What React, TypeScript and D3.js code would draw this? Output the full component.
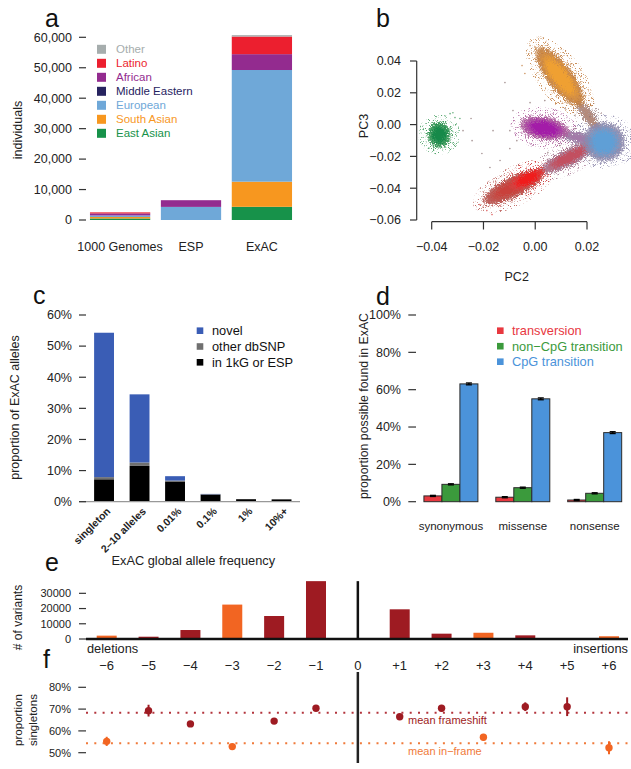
import { useEffect, useRef } from "react";
import * as d3 from "d3";

const FONT = "'Liberation Sans', Arial, Helvetica, sans-serif";

// a: individuals per cohort and population
const cohorts = ["1000 Genomes", "ESP", "ExAC"];
const populations = ["East Asian", "South Asian", "European", "Middle Eastern", "African", "Latino", "Other"];
const counts1kg = [504, 489, 503, 0, 661, 347, 0];
const countsEsp = [0, 0, 4300, 0, 2203, 0, 0];
const countsExac = [4327, 8256, 36677, 0, 5203, 5789, 454];
const countTicks = [0, 10000, 20000, 30000, 40000, 50000, 60000];
const popColor = {
  "East Asian": "#17924a",
  "South Asian": "#f7971f",
  European: "#6fa8d8",
  "Middle Eastern": "#27235f",
  African: "#932b8f",
  Latino: "#ec1f2f",
  Other: "#a6adad",
};

// b: PCA clouds (spine end points + spread, in PC units) and stray samples
const pcTicksX = [-0.04, -0.02, 0, 0.02];
const pcTicksY = [-0.06, -0.04, -0.02, 0, 0.02, 0.04];
const pcaClouds = [
  { id: "sas-eur", x1: 0.0160, y1: 0.0150, x2: 0.0250, y2: -0.0040, spread: 0.0075 },
  { id: "afr-eur", x1: 0.0095, y1: -0.0058, x2: 0.0235, y2: -0.0105, spread: 0.0075 },
  { id: "amr-tail", x1: -0.0205, y1: -0.0490, x2: 0.0040, y2: -0.0290, spread: 0.0135 },
  { id: "amr-eur", x1: 0.0018, y1: -0.0300, x2: 0.0240, y2: -0.0115, spread: 0.0110 },
  { id: "eur", x1: 0.0265, y1: 0.0018, x2: 0.0265, y2: -0.0235, spread: 0.0270 },
  { id: "amr", x1: -0.0098, y1: -0.0395, x2: 0.0040, y2: -0.0285, spread: 0.0100 },
  { id: "afr", x1: -0.0063, y1: 0.0005, x2: 0.0134, y2: -0.0052, spread: 0.0150 },
  { id: "sas", x1: 0.0005, y1: 0.0491, x2: 0.0185, y2: 0.0113, spread: 0.0165 },
  { id: "eas", x1: -0.0371, y1: 0.0022, x2: -0.0371, y2: -0.0148, spread: 0.0150 },
];
const pcaStrays = [
  [-0.0329, 0.0069, "eas"], [-0.0310, 0.0044, "eas"], [-0.0291, 0.0038, "eas"], [-0.0318, 0.0075, "eas"],
  [-0.0248, 0.0038, "mix"], [-0.0279, -0.0038, "mix"], [-0.0244, -0.0101, "mix"], [-0.0206, -0.0182, "mix"],
  [-0.0175, -0.0270, "mix"], [-0.0163, -0.0038, "mix"], [-0.0136, -0.0226, "mix"], [-0.0117, 0.0264, "mix"],
  [-0.0098, -0.0038, "mix"], [-0.0071, -0.0101, "mix"], [-0.0098, -0.0151, "mix"], [-0.0040, 0.0321, "sas"],
  [-0.0051, 0.0371, "sas"], [-0.0086, 0.0088, "mix"], [-0.0020, 0.0138, "mix"], [0.0037, 0.0151, "mix"],
  [0.0115, 0.0101, "mix"], [0.0153, 0.0057, "mix"], [0.0211, 0.0050, "mix"], [0.0153, -0.0025, "mix"],
  [0.0095, -0.0132, "mix"], [0.0049, -0.0176, "mix"], [-0.0187, -0.0541, "amr"], [-0.0167, -0.0566, "amr"],
  [-0.0214, -0.0503, "amr"], [-0.0136, -0.0509, "amr"], [0.0327, -0.0164, "eur"], [0.0346, -0.0069, "eur"],
  [0.0211, -0.0226, "mix"], [0.0134, -0.0258, "mix"], [-0.0020, 0.0497, "sas"], [0.0192, 0.0182, "sas"],
  [0.0049, 0.0465, "sas"],
];
const cloudColor = {
  eas: ["#16894a", "#3d9a5a"],
  sas: ["#efa032", "#c27d3e"],
  afr: ["#a31ea8", "#ad5f9c"],
  eur: ["#5e9fd6", "#8d88ab"],
  amr: ["#f01c1c", "#d84040"],
  "amr-tail": ["#c9403a", "#b75550"],
  "amr-eur": ["#c25060", "#a57690"],
  "sas-eur": ["#b48a7a", "#a99090"],
  "afr-eur": ["#a27aa8", "#9c88a8"],
  mix: ["#8d7676", "#8d7676"],
};

// c: allele frequency spectrum (% of ExAC alleles)
const afBins = ["singleton", "2–10 alleles", "0.01%", "0.1%", "1%", "10%+"];
const afKnown = [7.2, 11.5, 6.5, 2.3, 0.8, 0.75];
const afOtherDbsnp = [0.7, 1.1, 0.3, 0.1, 0, 0];
const afNovel = [46.4, 21.9, 1.4, 0.1, 0, 0];
const pctTicksC = [0, 10, 20, 30, 40, 50, 60];

// d: proportion of possible variants observed (%)
const mutClasses = ["synonymous", "missense", "nonsense"];
const mutTypes = ["transversion", "non−CpG transition", "CpG transition"];
const foundTransversion = [3.1, 2.4, 0.9];
const foundNonCpg = [9.3, 7.5, 4.5];
const foundCpg = [63.1, 55.1, 37.0];
const foundErr = [0.3, 0.3, 0.5];
const pctTicksD = [0, 20, 40, 60, 80, 100];

// e/f: indels by length
const indelSizes = [-6, -5, -4, -3, -2, -1, 0, 1, 2, 3, 4, 5, 6];
const indelCounts = [2200, 1500, 5900, 22600, 15100, 38000, null, 19500, 3500, 4100, 2400, 150, 1800];
const countTicksE = [0, 10000, 20000, 30000];
const singletonPct = [55.2, 69.3, 63.2, 52.8, 64.5, 70.4, null, 66.5, 70.4, 57.1, 71.1, 71.1, 52.3];
const singletonErr = [2.1, 2.7, 1.0, 0.9, 0.9, 0.9, null, 0.9, 1.5, 1.5, 2.0, 4.3, 3.0];
const meanFrameshift = 68.3;
const meanInframe = 54.3;
const pctTicksF = [50, 60, 70, 80];

const FS = "#9e1b22";
const IF = "#f26522";

function ticksY(g, scale, values, x0, x1, labelX, fmt, size) {
  values.forEach((v) => {
    g.append("line").attr("x1", x0).attr("x2", x1).attr("y1", scale(v)).attr("y2", scale(v))
      .attr("stroke", "#333").attr("stroke-width", 1.2);
    g.append("text").attr("x", labelX).attr("y", scale(v)).attr("dy", "0.35em")
      .attr("text-anchor", "end").attr("fill", "#222").style("font-size", size + "px").text(fmt(v));
  });
}

function vlabel(g, x, y, text, size) {
  g.append("text").attr("transform", `translate(${x},${y}) rotate(-90)`)
    .attr("text-anchor", "middle").attr("fill", "#222").style("font-size", size + "px").text(text);
}

function panelLabel(g, x, y, t) {
  g.append("text").attr("x", x).attr("y", y).attr("fill", "#111").style("font-size", "25px").text(t);
}

export default function App() {
  const ref = useRef(null);

  useEffect(() => {
    const svg = d3.select(ref.current);
    svg.selectAll("*").remove();
    svg.style("font-family", FONT);
    const defs = svg.append("defs");

    // ---------- a ----------
    const ga = svg.append("g");
    const ya = d3.scaleLinear().domain([0, 60000]).range([220, 37.3]);
    const xa = d3.scaleBand().domain(cohorts).range([85, 297]).paddingInner(0.15).paddingOuter(0.07);
    const rowsA = [counts1kg, countsEsp, countsExac].map((arr, i) => {
      const r = { cohort: cohorts[i] };
      populations.forEach((p, j) => (r[p] = arr[j]));
      return r;
    });
    const stackA = d3.stack().keys(populations)(rowsA);
    stackA.forEach((layer) => {
      ga.append("g").attr("fill", popColor[layer.key]).selectAll("rect").data(layer).join("rect")
        .attr("x", (d) => xa(d.data.cohort)).attr("width", xa.bandwidth())
        .attr("y", (d) => ya(d[1])).attr("height", (d) => ya(d[0]) - ya(d[1]));
    });
    ticksY(ga, ya, countTicks, 79, 86, 72, d3.format(","), 12.5);
    cohorts.forEach((c) => {
      ga.append("text").attr("x", xa(c) + xa.bandwidth() / 2).attr("y", 251).attr("text-anchor", "middle")
        .attr("fill", "#222").style("font-size", "12.5px").text(c);
    });
    vlabel(ga, 21.5, 130, "individuals", 12.5);
    [...populations].reverse().forEach((p, i) => {
      const y = 49.3 + i * 14;
      ga.append("rect").attr("x", 97).attr("y", y - 4.5).attr("width", 9).attr("height", 9).attr("fill", popColor[p]);
      ga.append("text").attr("x", 116).attr("y", y).attr("dy", "0.35em").attr("fill", popColor[p])
        .style("font-size", "11.5px").text(p);
    });
    panelLabel(ga, 45, 27, "a");

    // ---------- b ----------
    const gb = svg.append("g");
    const xb = d3.scaleLinear().domain([-0.04, 0.02]).range([431.7, 587]);
    const yb = d3.scaleLinear().domain([-0.06, 0.04]).range([220, 61]);
    const grain = defs.append("filter").attr("id", "grain").attr("x", "-30%").attr("y", "-30%")
      .attr("width", "160%").attr("height", "160%");
    grain.append("feTurbulence").attr("type", "fractalNoise").attr("baseFrequency", 1.1)
      .attr("numOctaves", 2).attr("seed", 4).attr("result", "n");
    grain.append("feDisplacementMap").attr("in", "SourceGraphic").attr("in2", "n").attr("scale", 11)
      .attr("xChannelSelector", "R").attr("yChannelSelector", "G");
    const speckle = defs.append("filter").attr("id", "speckle").attr("x", "-30%").attr("y", "-30%")
      .attr("width", "160%").attr("height", "160%");
    speckle.append("feTurbulence").attr("type", "fractalNoise").attr("baseFrequency", 1.6)
      .attr("numOctaves", 1).attr("seed", 9).attr("result", "n");
    speckle.append("feColorMatrix").attr("in", "n").attr("type", "matrix")
      .attr("values", "0 0 0 0 0  0 0 0 0 0  0 0 0 0 0  9 0 0 0 -5.2").attr("result", "m");
    speckle.append("feComposite").attr("in", "SourceGraphic").attr("in2", "m").attr("operator", "in");

    const geom = pcaClouds.map((c) => {
      const px1 = xb(c.x1), py1 = yb(c.y1), px2 = xb(c.x2), py2 = yb(c.y2);
      return {
        id: c.id,
        cx: (px1 + px2) / 2,
        cy: (py1 + py2) / 2,
        rx: Math.hypot(px2 - px1, py2 - py1) / 2,
        ry: (yb(0) - yb(c.spread)) / 2,
        ang: (Math.atan2(py2 - py1, px2 - px1) * 180) / Math.PI,
      };
    });
    const fringeG = gb.append("g").attr("filter", "url(#speckle)");
    geom.forEach((c) => {
      fringeG.append("ellipse")
        .attr("transform", `translate(${c.cx},${c.cy}) rotate(${c.ang})`)
        .attr("rx", c.rx * 1.12 + 5).attr("ry", c.ry * 1.35 + 5)
        .attr("fill", cloudColor[c.id][1]).attr("opacity", 0.85);
    });
    const cloudG = gb.append("g").attr("filter", "url(#grain)");
    geom.forEach((c) => {
      const [core, edge] = cloudColor[c.id];
      const grad = defs.append("radialGradient").attr("id", "cg-" + c.id);
      grad.append("stop").attr("offset", "0%").attr("stop-color", core).attr("stop-opacity", 1);
      grad.append("stop").attr("offset", "45%").attr("stop-color", core).attr("stop-opacity", 1);
      grad.append("stop").attr("offset", "85%").attr("stop-color", edge).attr("stop-opacity", 0.92);
      grad.append("stop").attr("offset", "100%").attr("stop-color", edge).attr("stop-opacity", 0.35);
      cloudG.append("ellipse")
        .attr("transform", `translate(${c.cx},${c.cy}) rotate(${c.ang})`)
        .attr("rx", c.rx).attr("ry", c.ry)
        .attr("fill", `url(#cg-${c.id})`);
    });
    gb.append("g").selectAll("circle").data(pcaStrays).join("circle")
      .attr("cx", (d) => xb(d[0])).attr("cy", (d) => yb(d[1])).attr("r", 0.8)
      .attr("fill", (d) => cloudColor[d[2]][1]).attr("opacity", 0.8);
    gb.append("line").attr("x1", 416.7).attr("x2", 416.7).attr("y1", yb(0.04)).attr("y2", yb(-0.06))
      .attr("stroke", "#333").attr("stroke-width", 1.2);
    ticksY(gb, yb, pcTicksY, 410, 416.7, 401, d3.format(".2f"), 12.5);
    gb.append("line").attr("x1", xb(-0.04)).attr("x2", xb(0.02)).attr("y1", 221.7).attr("y2", 221.7)
      .attr("stroke", "#333").attr("stroke-width", 1.2);
    pcTicksX.forEach((v) => {
      gb.append("line").attr("x1", xb(v)).attr("x2", xb(v)).attr("y1", 221.7).attr("y2", 229.5)
        .attr("stroke", "#333").attr("stroke-width", 1.2);
      gb.append("text").attr("x", xb(v)).attr("y", 251).attr("text-anchor", "middle").attr("fill", "#222")
        .style("font-size", "12.5px").text(d3.format(".2f")(v));
    });
    gb.append("text").attr("x", 516.7).attr("y", 281).attr("text-anchor", "middle").attr("fill", "#222")
      .style("font-size", "12.5px").text("PC2");
    vlabel(gb, 368, 126, "PC3", 12.5);
    panelLabel(gb, 376, 27, "b");

    // ---------- c ----------
    const gc = svg.append("g");
    const yc = d3.scaleLinear().domain([0, 60]).range([501.7, 315]);
    const xc = d3.scaleBand().domain(afBins).range([86.3, 299.3]).paddingInner(0.44).paddingOuter(0.22);
    const rowsC = afBins.map((b, i) => ({ bin: b, known: afKnown[i], dbsnp: afOtherDbsnp[i], novel: afNovel[i] }));
    const colC = { known: "#000000", dbsnp: "#707070", novel: "#3a5db5" };
    d3.stack().keys(["known", "dbsnp", "novel"])(rowsC).forEach((layer) => {
      gc.append("g").attr("fill", colC[layer.key]).selectAll("rect").data(layer).join("rect")
        .attr("x", (d) => xc(d.data.bin)).attr("width", xc.bandwidth())
        .attr("y", (d) => yc(d[1])).attr("height", (d) => yc(d[0]) - yc(d[1]));
    });
    gc.append("line").attr("x1", 79).attr("x2", 300).attr("y1", yc(0)).attr("y2", yc(0))
      .attr("stroke", "#999").attr("stroke-width", 1.2);
    ticksY(gc, yc, pctTicksC, 79, 86, 72, (v) => v + "%", 12.5);
    afBins.forEach((b) => {
      gc.append("text").attr("transform", `translate(${xc(b) + xc.bandwidth() / 2 + 7},512) rotate(-45)`)
        .attr("text-anchor", "end").attr("fill", "#222").style("font-size", "10.5px")
        .style("font-weight", "bold").text(b);
    });
    gc.append("text").attr("x", 193.3).attr("y", 564.5).attr("text-anchor", "middle").attr("fill", "#222")
      .style("font-size", "12.8px").text("ExAC global allele frequency");
    vlabel(gc, 18.5, 407.5, "proportion of ExAC alleles", 12.5);
    [["novel", "novel"], ["dbsnp", "other dbSNP"], ["known", "in 1kG or ESP"]].forEach(([k, t], i) => {
      const y = 330.7 + i * 15.8;
      gc.append("rect").attr("x", 196.7).attr("y", y - 3.3).attr("width", 6.6).attr("height", 6.6).attr("fill", colC[k]);
      gc.append("text").attr("x", 212).attr("y", y).attr("dy", "0.35em").attr("fill", "#111")
        .style("font-size", "12.8px").text(t);
    });
    panelLabel(gc, 33, 304, "c");

    // ---------- d ----------
    const gd = svg.append("g");
    const yd = d3.scaleLinear().domain([0, 100]).range([501.7, 315]);
    const xd0 = d3.scaleBand().domain(mutClasses).range([415, 630.6]).paddingInner(0.249).paddingOuter(0.124);
    const xd1 = d3.scaleBand().domain(mutTypes).range([0, xd0.bandwidth()]);
    const colD = ["#e8383f", "#3b9a3c", "#4b93da"];
    const valsD = [foundTransversion, foundNonCpg, foundCpg];
    mutClasses.forEach((cls, i) => {
      mutTypes.forEach((t, j) => {
        const v = valsD[j][i];
        const x = xd0(cls) + xd1(t);
        gd.append("rect").attr("x", x).attr("width", xd1.bandwidth()).attr("y", yd(v))
          .attr("height", yd(0) - yd(v)).attr("fill", colD[j]).attr("stroke", "#2b2b2b").attr("stroke-width", 1);
        const cx = x + xd1.bandwidth() / 2;
        const e = foundErr[j];
        gd.append("line").attr("x1", cx).attr("x2", cx).attr("y1", yd(v - e)).attr("y2", yd(v + e))
          .attr("stroke", "#000").attr("stroke-width", 1.5);
        [v - e, v + e].forEach((w) => {
          gd.append("line").attr("x1", cx - 3).attr("x2", cx + 3).attr("y1", yd(w)).attr("y2", yd(w))
            .attr("stroke", "#000").attr("stroke-width", 1.3);
        });
      });
      gd.append("text").attr("x", xd0(cls) + xd0.bandwidth() / 2).attr("y", 530).attr("text-anchor", "middle")
        .attr("fill", "#222").style("font-size", "11.5px").text(cls);
    });
    ticksY(gd, yd, pctTicksD, 408.3, 416, 401, (v) => v + "%", 12.5);
    vlabel(gd, 368, 406, "proportion possible found in ExAC", 12.3);
    mutTypes.forEach((t, j) => {
      const y = 330.7 + j * 15.5;
      gd.append("rect").attr("x", 497).attr("y", y - 3.3).attr("width", 6.6).attr("height", 6.6).attr("fill", colD[j]);
      gd.append("text").attr("x", 512).attr("y", y).attr("dy", "0.35em").attr("fill", colD[j])
        .style("font-size", "12.8px").text(t);
    });
    panelLabel(gd, 376, 305, "d");

    // ---------- e ----------
    const ge = svg.append("g");
    const xe = d3.scaleLinear().domain([-6, 6]).range([106.7, 609]);
    const ye = d3.scaleLinear().domain([0, 40000]).range([639, 578.1]);
    const isFs = (s) => Math.abs(s) % 3 !== 0;
    indelSizes.forEach((s, i) => {
      const v = indelCounts[i];
      if (v == null) return;
      ge.append("rect").attr("x", xe(s) - 10).attr("width", 20).attr("y", ye(v)).attr("height", ye(0) - ye(v))
        .attr("fill", isFs(s) ? FS : IF);
    });
    ge.append("line").attr("x1", 86).attr("x2", 628).attr("y1", ye(0)).attr("y2", ye(0))
      .attr("stroke", "#111").attr("stroke-width", 2.5);
    ge.append("line").attr("x1", xe(0)).attr("x2", xe(0)).attr("y1", ye(38000)).attr("y2", ye(0))
      .attr("stroke", "#111").attr("stroke-width", 2.5);
    ticksY(ge, ye, countTicksE, 79, 86, 71, d3.format("d"), 11);
    indelSizes.forEach((s) => {
      ge.append("text").attr("x", xe(s)).attr("y", 670).attr("text-anchor", "middle").attr("fill", "#222")
        .style("font-size", "13px").text(s === 0 ? "0" : d3.format("+d")(s));
    });
    ge.append("text").attr("x", 87).attr("y", 653).attr("fill", "#222").style("font-size", "12.8px").text("deletions");
    ge.append("text").attr("x", 628).attr("y", 653).attr("text-anchor", "end").attr("fill", "#222")
      .style("font-size", "12.8px").text("insertions");
    vlabel(ge, 21.5, 617.5, "# of variants", 12);
    panelLabel(ge, 45, 571, "e");

    // ---------- f ----------
    const gf = svg.append("g");
    const yf = d3.scaleLinear().domain([50, 80]).range([752.7, 687.3]);
    gf.append("line").attr("x1", xe(0)).attr("x2", xe(0)).attr("y1", 672).attr("y2", 763)
      .attr("stroke", "#222").attr("stroke-width", 2.5);
    [[meanFrameshift, "#b3343c"], [meanInframe, "#f07a3a"]].forEach(([m, c]) => {
      gf.append("line").attr("x1", 86).attr("x2", 631).attr("y1", yf(m)).attr("y2", yf(m))
        .attr("stroke", c).attr("stroke-width", 2).attr("stroke-dasharray", "2 6.3");
    });
    indelSizes.forEach((s, i) => {
      const v = singletonPct[i];
      if (v == null) return;
      const c = isFs(s) ? FS : IF;
      const e = singletonErr[i];
      gf.append("line").attr("x1", xe(s)).attr("x2", xe(s)).attr("y1", yf(v - e)).attr("y2", yf(v + e))
        .attr("stroke", c).attr("stroke-width", 2);
      gf.append("circle").attr("cx", xe(s)).attr("cy", yf(v)).attr("r", 3.7).attr("fill", c);
    });
    gf.append("text").attr("x", 408).attr("y", yf(meanFrameshift) + 11.5).attr("fill", FS)
      .style("font-size", "11px").text("mean frameshift");
    gf.append("text").attr("x", 408).attr("y", yf(meanInframe) + 12).attr("fill", "#f07a3a")
      .style("font-size", "11px").text("mean in−frame");
    ticksY(gf, yf, pctTicksF, 78.3, 86, 71, (v) => v + "%", 11);
    vlabel(gf, 22, 720, "proportion", 11.5);
    vlabel(gf, 37, 720, "singletons", 11.5);
    panelLabel(gf, 43, 668, "f");
  }, []);

  return (
    <svg
      ref={ref}
      width={631}
      height={769}
      style={{ position: "absolute", left: 0, top: 0, background: "#fff" }}
    />
  );
}
